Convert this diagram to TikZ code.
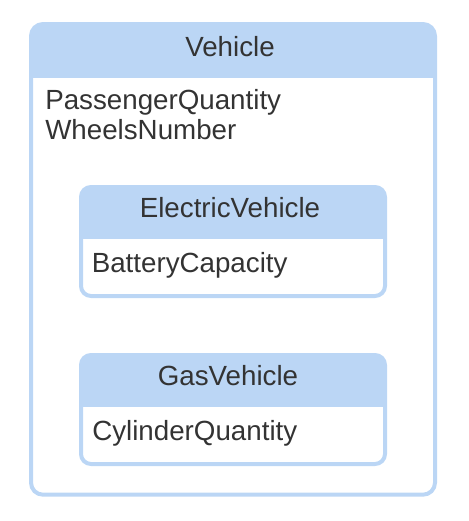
\documentclass[tikz,border=0pt]{standalone}
\usepackage{fontspec}
\setmainfont{Liberation Sans}
\definecolor{hdr}{RGB}{187,214,245}
\definecolor{txt}{RGB}{51,51,51}
\begin{document}
\begin{tikzpicture}[x=0.75pt,y=-0.75pt,
  lbl/.style={inner sep=0pt,text=txt,font=\fontsize{20.8}{24}\selectfont},
  border/.style={draw=hdr,line width=3pt},
]
\useasboundingbox (0,0) rectangle (468,521);
% outer class
\begin{scope}
\clip (31,24) rectangle (435,77);
\fill[hdr,rounded corners=9pt] (31,24) rectangle (435,494.7);
\end{scope}
\draw[border,rounded corners=9pt] (31,24) rectangle (435,494.7);
\node[lbl,anchor=base] (vehicle) at (230,56.7) {Vehicle};
\node[lbl,anchor=base west] (pq) at (45,109.3) {PassengerQuantity};
\node[lbl,anchor=base west] (wn) at (45,139.3) {WheelsNumber};
% ElectricVehicle
\begin{scope}
\clip (81,187) rectangle (385,238.5);
\fill[hdr,rounded corners=7.5pt] (81,187) rectangle (385,296);
\end{scope}
\draw[border,rounded corners=7.5pt] (81,187) rectangle (385,296);
\node[lbl,anchor=base] (ev) at (230,217) {ElectricVehicle};
\node[lbl,anchor=base west] (bc) at (91.5,272) {BatteryCapacity};
% GasVehicle
\begin{scope}
\clip (81,355) rectangle (385,406.5);
\fill[hdr,rounded corners=7.5pt] (81,355) rectangle (385,464);
\end{scope}
\draw[border,rounded corners=7.5pt] (81,355) rectangle (385,464);
\node[lbl,anchor=base] (gv) at (228,385) {GasVehicle};
\node[lbl,anchor=base west] (cq) at (92,440) {CylinderQuantity};
\end{tikzpicture}
\end{document}
